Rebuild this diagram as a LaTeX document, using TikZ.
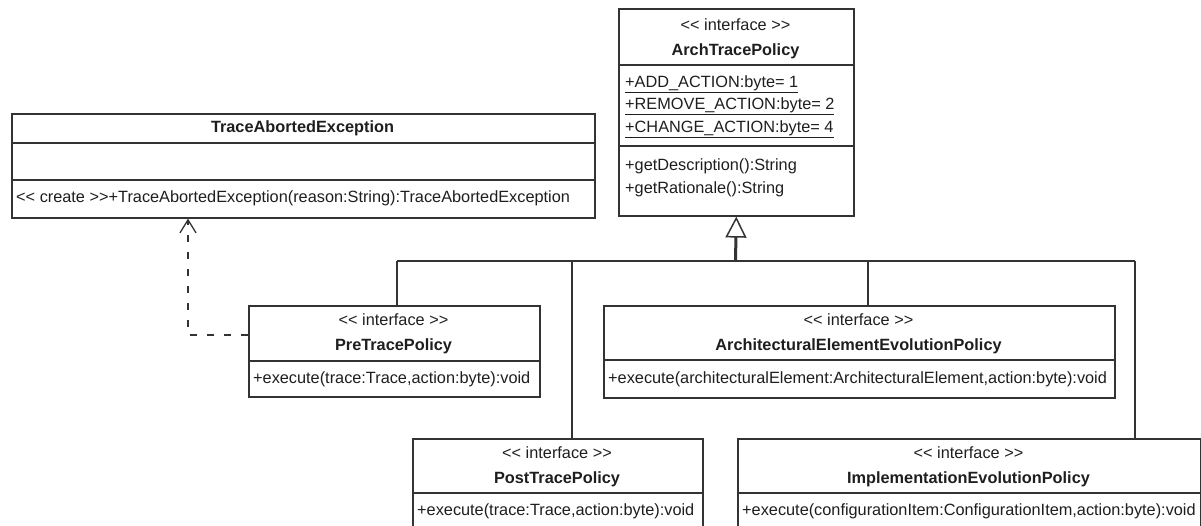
\documentclass[tikz,border=0pt]{standalone}
\usepackage{fontspec}
\setmainfont{Liberation Sans}
\usetikzlibrary{arrows.meta,calc}
\definecolor{linec}{HTML}{333333}
\definecolor{textc}{HTML}{1E1E1E}
% guillemet-free double angle brackets
\newcommand\lguil{<\kern0pt<}
\newcommand\rguil{>\kern0pt>}
\newcommand\stereotype[1]{\lguil{} #1 \rguil}

\begin{document}
\begin{tikzpicture}[x=1pt,y=-1pt,
  umlbox/.style={draw=linec, line width=1.6pt, rectangle, inner sep=0pt, anchor=north west},
  compsep/.style={draw=linec, line width=1.6pt},
  stereo/.style={font=\fontsize{16.3}{19}\selectfont, text=textc, inner sep=0pt},
  cname/.style={font=\bfseries\fontsize{16.3}{19}\selectfont, text=textc, inner sep=0pt},
  member/.style={anchor=west, font=\fontsize{16.3}{19}\selectfont, text=textc, inner sep=0pt},
  assoc/.style={draw=linec, line width=1.3pt},
  depline/.style={draw=linec, line width=1.3pt, dash pattern=on 7pt off 10pt,
    -{Straight Barb[length=13pt, width=16pt, line width=1.3pt]}},
  genline/.style={draw=linec, line width=3pt,
    -{Triangle[open, length=21pt, width=21pt, line width=1.5pt]}},
]
\useasboundingbox (0,0) rectangle (1201,526);

% ---- TraceAbortedException ----
\node[umlbox, minimum width=583pt, minimum height=104pt] (tae) at (11,113) {};
\draw[compsep] (tae.west |- 0,143) -- (tae.east |- 0,143);
\draw[compsep] (tae.west |- 0,180) -- (tae.east |- 0,180);
\node[cname] (taename) at (302.5,128) {TraceAbortedException};
\node[member] (taeop) at (16,198.5) {\stereotype{create}+TraceAbortedException(reason:String):TraceAbortedException};

% ---- ArchTracePolicy ----
\node[umlbox, minimum width=235pt, minimum height=207pt] (arch) at (618,8) {};
\draw[compsep] (arch.west |- 0,65) -- (arch.east |- 0,65);
\draw[compsep] (arch.west |- 0,146) -- (arch.east |- 0,146);
\node[stereo] (archst) at (735.5,25) {\stereotype{interface}};
\node[cname] (archname) at (735.5,51) {ArchTracePolicy};
\node[member] (archa1) at (625,84) {\underline{+ADD\_ACTION:byte= 1}};
\node[member] (archa2) at (625,106.5) {\underline{+REMOVE\_ACTION:byte= 2}};
\node[member] (archa3) at (625,129) {\underline{+CHANGE\_ACTION:byte= 4}};
\node[member] (archm1) at (625,166) {+getDescription():String};
\node[member] (archm2) at (625,189) {+getRationale():String};

% ---- PreTracePolicy ----
\node[umlbox, minimum width=291pt, minimum height=91pt] (pre) at (248,305) {};
\draw[compsep] (pre.west |- 0,361) -- (pre.east |- 0,361);
\node[stereo] (prest) at (393.5,320) {\stereotype{interface}};
\node[cname] (prename) at (393.5,346) {PreTracePolicy};
\node[member] (preop) at (253,379) {+execute(trace:Trace,action:byte):void};

% ---- ArchitecturalElementEvolutionPolicy ----
\node[umlbox, minimum width=511pt, minimum height=92pt] (aee) at (603,305) {};
\draw[compsep] (aee.west |- 0,360) -- (aee.east |- 0,360);
\node[stereo] (aeest) at (858.5,320) {\stereotype{interface}};
\node[cname] (aeename) at (858.5,346) {ArchitecturalElementEvolutionPolicy};
\node[member] (aeeop) at (608,379) {+execute(architecturalElement:ArchitecturalElement,action:byte):void};

% ---- PostTracePolicy ----
\node[umlbox, minimum width=290pt, minimum height=90pt] (post) at (412,438) {};
\draw[compsep] (post.west |- 0,493) -- (post.east |- 0,493);
\node[stereo] (postst) at (557,453) {\stereotype{interface}};
\node[cname] (postname) at (557,479.5) {PostTracePolicy};
\node[member] (postop) at (417,511) {+execute(trace:Trace,action:byte):void};

% ---- ImplementationEvolutionPolicy ----
\node[umlbox, minimum width=463pt, minimum height=90pt] (impl) at (737,438) {};
\draw[compsep] (impl.west |- 0,493) -- (impl.east |- 0,493);
\node[stereo] (implst) at (968.5,453) {\stereotype{interface}};
\node[cname] (implname) at (968.5,479.5) {ImplementationEvolutionPolicy};
\node[member] (implop) at (742,511) {+execute(configurationItem:ConfigurationItem,action:byte):void};

% ---- generalization tree ----
\coordinate (jpre) at (397,261);
\coordinate (jpost) at (572,261);
\coordinate (jarch) at (735.5,261);
\coordinate (jaee) at (868,261);
\coordinate (jimpl) at (1135,261);
\draw[assoc] (jpre) -- (jimpl);
\draw[assoc] (jpre) -- (jpre |- pre.north);
\draw[assoc] (jpost) -- (jpost |- post.north);
\draw[assoc] (jaee) -- (jaee |- aee.north);
\draw[assoc] (jimpl) -- (jimpl |- impl.north);
\draw[genline] (jarch) -- (arch.south);

% ---- dependency ----
\coordinate (dep) at (188,335);
\draw[depline] (pre.west |- dep) -- (dep) -- (dep |- tae.south);
\end{tikzpicture}
\end{document}
